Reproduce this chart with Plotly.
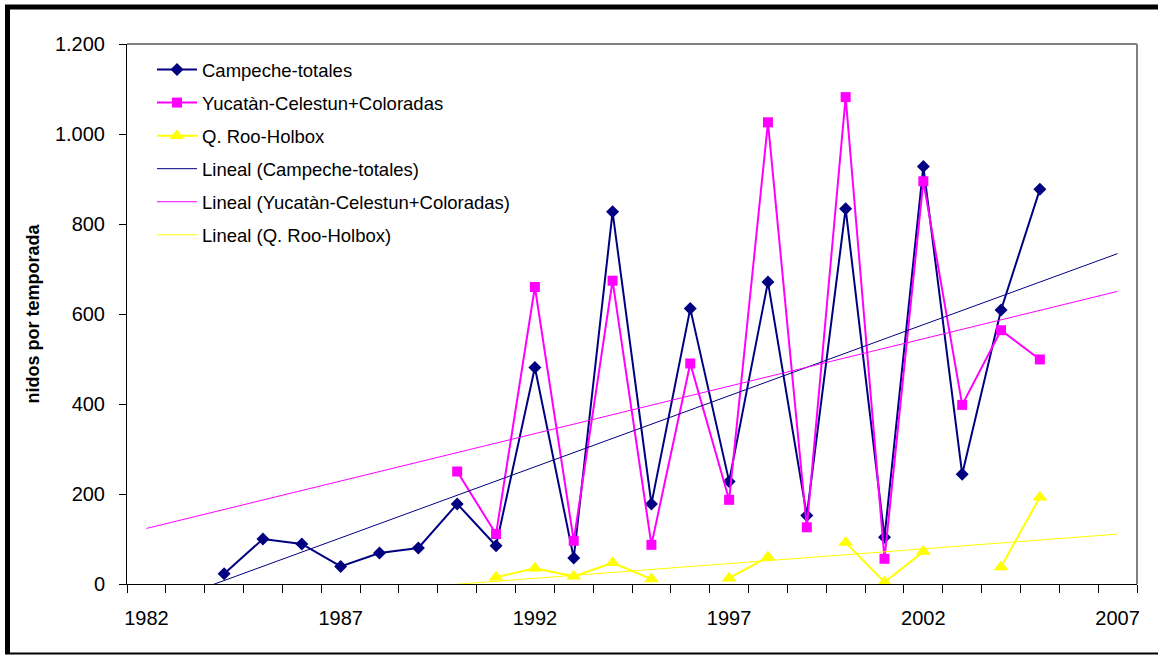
import numpy as np
import plotly.graph_objects as go

# ---------------- data ----------------
years_campeche = list(range(1984, 2006))
campeche = [23, 100, 89, 39, 69, 80, 178, 85, 481, 58, 827, 178,
            612, 228, 671, 152, 834, 104, 928, 244, 609, 877]

years_yucatan = list(range(1990, 2006))
yucatan = [250, 111, 660, 96, 674, 87, 490, 187, 1026, 126, 1082, 56,
           895, 398, 564, 499]

years_qroo = list(range(1991, 2006))
qroo = [15, 35, 17, 47, 11, None, 13, 60, None, 92, 4, 72, None, 38, 193]

x_tick_labels = [1982, 1987, 1992, 1997, 2002, 2007]
y_tick_values = [0, 200, 400, 600, 800, 1000, 1200]
trend_span = [1982, 2007]

names = ["Campeche-totales", "Yucatàn-Celestun+Coloradas", "Q. Roo-Holbox"]
colors = ["#000080", "#FF00FF", "#FFFF00"]
symbols = ["diamond", "square", "triangle-up"]
sizes = [10, 10, 13]

series = [(years_campeche, campeche), (years_yucatan, yucatan), (years_qroo, qroo)]

FONT = "Liberation Sans, Arial, sans-serif"

fig = go.Figure()

# data series
for i, (xs, ys) in enumerate(series):
    fig.add_trace(go.Scatter(
        x=xs, y=ys, name=names[i], mode="lines+markers",
        line=dict(color=colors[i], width=2),
        marker=dict(symbol=symbols[i], size=sizes[i], color=colors[i], line=dict(width=0)),
        connectgaps=False, legendgroup=f"g{i}", legendrank=i + 1,
    ))

# linear trend lines (least squares on each series)
for i, (xs, ys) in enumerate(series):
    xa = np.array([x for x, y in zip(xs, ys) if y is not None], dtype=float)
    ya = np.array([y for y in ys if y is not None], dtype=float)
    slope, icpt = np.polyfit(xa, ya, 1)
    tx = np.array(trend_span, dtype=float)
    fig.add_trace(go.Scatter(
        x=tx, y=slope * tx + icpt, name=f"Lineal ({names[i]})", mode="lines",
        line=dict(color=colors[i], width=1),
        legendgroup=f"t{i}", legendrank=4 + i,
    ))

W, H = 1158, 655
# plot area in window pixels: x 127..1137, y 44..584
L, T = 127, 44
R = W - 1137
B = H - 584
PW, PH = W - L - R, H - T - B


def px(x):
    """window pixel x -> paper"""
    return (x - L) / PW


def py(y):
    """window pixel y -> paper"""
    return (H - B - y) / PH


shapes = [
    # plot-area border (top, right) in grey
    dict(type="line", xref="x domain", yref="y domain", x0=0, x1=1, y0=1, y1=1,
         line=dict(color="#808080", width=2)),
    dict(type="line", xref="x domain", yref="y domain", x0=1, x1=1, y0=0, y1=1,
         line=dict(color="#808080", width=2)),
    # chart-area outer frame
    dict(type="line", xref="paper", yref="paper", x0=px(5), x1=px(1170), y0=py(7), y1=py(7),
         line=dict(color="black", width=5)),
    dict(type="line", xref="paper", yref="paper", x0=px(7.5), x1=px(7.5), y0=py(5), y1=py(654),
         line=dict(color="black", width=5)),
    dict(type="line", xref="paper", yref="paper", x0=px(5), x1=px(1170), y0=py(653.5), y1=py(653.5),
         line=dict(color="black", width=2)),
]

fig.update_layout(
    width=W, height=H,
    margin=dict(l=L, r=R, t=T, b=B, pad=0),
    paper_bgcolor="white", plot_bgcolor="white",
    font=dict(family=FONT, color="black", size=20),
    separators=",.",
    showlegend=True,
    legend=dict(
        x=px(152), y=py(51), xanchor="left", yanchor="top",
        bgcolor="rgba(0,0,0,0)", borderwidth=0,
        font=dict(family=FONT, size=18.5, color="black"),
        tracegroupgap=6, traceorder="grouped", itemwidth=40,
    ),
    shapes=shapes,
)

fig.update_xaxes(
    range=[1981.5, 2007.5],
    tickmode="array", tickvals=x_tick_labels,
    ticks="", showgrid=False, zeroline=False,
    showline=True, linecolor="black", linewidth=1,
    tickfont=dict(family=FONT, size=20, color="black"),
    ticklabelstandoff=16,
    minor=dict(ticks="outside", tick0=1981.5, dtick=1, ticklen=8,
               tickcolor="black", tickwidth=1, showgrid=False),
)

fig.update_yaxes(
    range=[0, 1200],
    tickmode="array", tickvals=y_tick_values, tickformat=",d",
    ticks="outside", ticklen=7, tickcolor="black", tickwidth=1,
    showgrid=False, zeroline=False,
    showline=True, linecolor="black", linewidth=1,
    tickfont=dict(family=FONT, size=20, color="black"),
    ticklabelstandoff=10,
    title=dict(text="<b>nidos por temporada</b>",
               font=dict(family=FONT, size=18, color="black"), standoff=10),
)

# the page body has a default 8px margin; remove it so the figure sits at (0, 0)
fig.write_html("out.html", config={"displayModeBar": False},
               post_script="document.body.style.margin='0px';")
